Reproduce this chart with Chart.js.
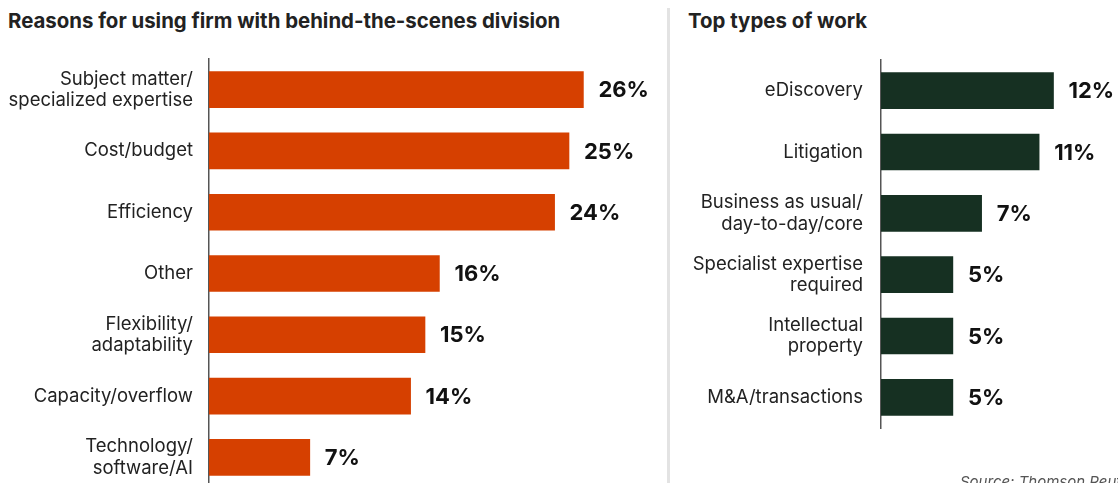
<!DOCTYPE html>
<html>
<head>
<meta charset="utf-8">
<script src="https://cdn.jsdelivr.net/npm/chart.js@4.4.1/dist/chart.umd.min.js"></script>
<style>
  html, body { margin: 0; padding: 0; background: #fff; overflow: hidden; }
  body { width: 1118px; height: 483px; position: relative; font-family: Inter, "Noto Sans", sans-serif; }
  .title { position: absolute; top: 8px; font-size: 20.4px; font-weight: 700; color: #222; white-space: nowrap; }
  .divider { position: absolute; left: 667px; top: 8px; width: 3px; height: 480px; background: #e3e3e3; }
  .source { position: absolute; left: 960px; top: 472px; font-size: 15px; font-style: italic; color: #555; white-space: nowrap; }
  canvas { position: absolute; top: 0; }
</style>
</head>
<body>
<div class="title" style="left:8px">Reasons for using firm with behind-the-scenes division</div>
<div class="title" style="left:688px">Top types of work</div>
<div class="divider"></div>
<canvas id="reasons-chart" width="660" height="500" style="left:0"></canvas>
<canvas id="work-chart" width="448" height="483" style="left:670px"></canvas>
<div class="source">Source: Thomson Reuters Institute</div>

<script>
// --- DATA ---
const reasonLabels = [
    ['Subject matter/', 'specialized expertise'],
    'Cost/budget',
    'Efficiency',
    'Other',
    ['Flexibility/', 'adaptability'],
    'Capacity/overflow',
    ['Technology/', 'software/AI']
];
const reasonValues = [26, 25, 24, 16, 15, 14, 7];

const workLabels = [
    'eDiscovery',
    'Litigation',
    ['Business as usual/', 'day-to-day/core'],
    ['Specialist expertise', 'required'],
    ['Intellectual', 'property'],
    'M&A/transactions'
];
const workValues = [12, 11, 7, 5, 5, 5];

// Writes "NN%" just past the end of each bar
const valueLabelPlugin = {
    id: 'valueLabels',
    afterDatasetsDraw(chart) {
        const { ctx } = chart;
        const meta = chart.getDatasetMeta(0);
        const values = chart.data.datasets[0].data;
        ctx.save();
        ctx.font = '700 22px Inter, "Noto Sans", sans-serif';
        ctx.fillStyle = '#111';
        ctx.textAlign = 'left';
        ctx.textBaseline = 'middle';
        meta.data.forEach((bar, i) => {
            ctx.fillText(values[i] + '%', bar.x + 15, bar.y + 1);
        });
        ctx.restore();
    }
};

function buildBarChart(canvasId, labels, values, color, opts) {
    const ctx = document.getElementById(canvasId).getContext('2d');
    return new Chart(ctx, {
        type: 'bar',
        data: {
            labels: labels,
            datasets: [{
                data: values,
                backgroundColor: color,
                barThickness: 36,
                borderWidth: 0
            }]
        },
        options: {
            indexAxis: 'y',
            responsive: false,
            animation: false,
            devicePixelRatio: 1,
            layout: { padding: opts.padding },
            plugins: {
                legend: { display: false },
                tooltip: { enabled: false }
            },
            scales: {
                x: {
                    display: false,
                    min: 0,
                    max: opts.max
                },
                y: {
                    grid: { display: false, drawTicks: false },
                    border: { display: true, color: '#555', width: 1.5 },
                    ticks: {
                        color: '#222',
                        padding: opts.tickPadding,
                        font: { family: 'Inter, "Noto Sans", sans-serif', size: 18.5, lineHeight: 1.15 }
                    },
                    afterFit(scale) {
                        // fixed label column; two-line end labels must not shrink the plot
                        scale.width = opts.axisWidth;
                        scale.paddingTop = 0;
                        scale.paddingBottom = 0;
                    }
                }
            }
        },
        plugins: [valueLabelPlugin]
    });
}

buildBarChart('reasons-chart', reasonLabels, reasonValues, '#d64000', {
    max: 30,
    axisWidth: 209,
    tickPadding: 16,
    padding: { top: 59, bottom: 12, left: 0, right: 19 }
});

buildBarChart('work-chart', workLabels, workValues, '#163022', {
    max: 16,
    axisWidth: 211,
    tickPadding: 18,
    padding: { top: 60, bottom: 55, left: 0, right: 7 }
});
</script>
</body>
</html>
